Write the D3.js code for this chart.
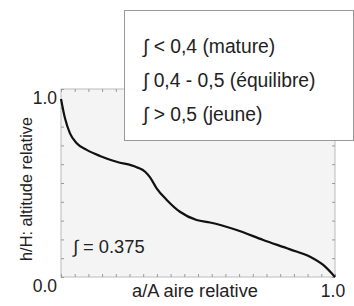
<!DOCTYPE html>
<html>
<head>
<meta charset="utf-8">
<script src="https://cdn.jsdelivr.net/npm/d3@7"></script>
<style>
  body { margin: 0; background: #fff; }
  text { font-family: "Liberation Sans", Arial, sans-serif; fill: #222; }
</style>
</head>
<body>
<div id="chart"></div>
<script>
// hypsometric curve
var areaRel = [0, 0.0146, 0.0328, 0.0573, 0.0938, 0.142, 0.203, 0.276, 0.307, 0.325, 0.349,
               0.386, 0.434, 0.495, 0.544, 0.641, 0.738, 0.836, 0.909, 0.957, 1];
var altRel  = [0.947, 0.844, 0.764, 0.711, 0.676, 0.644, 0.613, 0.584, 0.560, 0.530, 0.472,
               0.410, 0.347, 0.303, 0.290, 0.250, 0.197, 0.147, 0.108, 0.064, 0];

var yTickLabels = [0, 1];
var xTickLabels = [1];
var legendLines = ["\u222B < 0,4 (mature)", "\u222B 0,4 - 0,5 (\u00E9quilibre)", "\u222B > 0,5 (jeune)"];
var integralText = "\u222B = 0.375";

var W = 354, H = 306;
var margin = {top: 89, right: 19, bottom: 29, left: 61};
var width = W - margin.left - margin.right;
var height = H - margin.top - margin.bottom;

var svg = d3.select("#chart").append("svg")
    .attr("width", W)
    .attr("height", H);

var g = svg.append("g")
    .attr("transform", "translate(" + margin.left + "," + margin.top + ")");

var x = d3.scaleLinear().domain([0, 1]).range([0, width]);
var y = d3.scaleLinear().domain([0, 1]).range([height, 0]);

// plot background
g.append("rect")
    .attr("width", width)
    .attr("height", height)
    .attr("fill", "#f4f4f4")
    .attr("stroke", "#bbb");

var xt = d3.range(0, 1.0001, 0.05);
var yt = d3.range(0, 1.0001, 0.1);

function tickStyle(sel) {
  sel.select(".domain").remove();
  sel.selectAll("line").attr("stroke", "#999");
  sel.selectAll("text").remove();
}

g.append("g").attr("transform", "translate(0," + height + ")")
  .call(d3.axisBottom(x).tickValues(xt).tickSize(-3)).call(tickStyle);
g.append("g")
  .call(d3.axisTop(x).tickValues(xt).tickSize(-3)).call(tickStyle);
g.append("g")
  .call(d3.axisLeft(y).tickValues(yt).tickSize(-3)).call(tickStyle);
g.append("g").attr("transform", "translate(" + width + ",0)")
  .call(d3.axisRight(y).tickValues(yt).tickSize(-3)).call(tickStyle);

// curve
var line = d3.line()
    .x(function(d, i) { return x(areaRel[i]); })
    .y(function(d) { return y(d); })
    .curve(d3.curveMonotoneX);

g.append("path")
    .datum(altRel)
    .attr("d", line)
    .attr("fill", "none")
    .attr("stroke", "#111")
    .attr("stroke-width", 2.2);

// tick labels
g.selectAll(".ylab").data(yTickLabels).enter().append("text")
    .attr("class", "ylab")
    .attr("x", -4)
    .attr("y", function(d) { return y(d) + 15; })
    .attr("text-anchor", "end")
    .style("font-size", "17.5px")
    .text(function(d) { return d.toFixed(1); });

g.selectAll(".xlab").data(xTickLabels).enter().append("text")
    .attr("class", "xlab")
    .attr("x", function(d) { return x(d) - 2; })
    .attr("y", height + 20)
    .attr("text-anchor", "middle")
    .style("font-size", "17.5px")
    .text(function(d) { return d.toFixed(1); });

// axis titles
g.append("text")
    .attr("x", width / 2 - 3)
    .attr("y", height + 20)
    .attr("text-anchor", "middle")
    .style("font-size", "18.3px")
    .text("a/A aire relative");

svg.append("text")
    .attr("transform", "translate(32,189) rotate(-90)")
    .attr("text-anchor", "middle")
    .style("font-size", "16.3px")
    .text("h/H: altitude relative");

g.append("text")
    .attr("x", 12)
    .attr("y", 164)
    .style("font-size", "18.3px")
    .text(integralText);

// legend box
var leg = svg.append("g").attr("transform", "translate(124.5,10.5)");
leg.append("rect")
    .attr("width", 229)
    .attr("height", 130)
    .attr("fill", "#fff")
    .attr("stroke", "#999");

leg.selectAll("text").data(legendLines).enter().append("text")
    .attr("x", 18.5)
    .attr("y", function(d, i) { return 42.5 + i * 34; })
    .style("font-size", "19.3px")
    .text(function(d) { return d; });
</script>
</body>
</html>
